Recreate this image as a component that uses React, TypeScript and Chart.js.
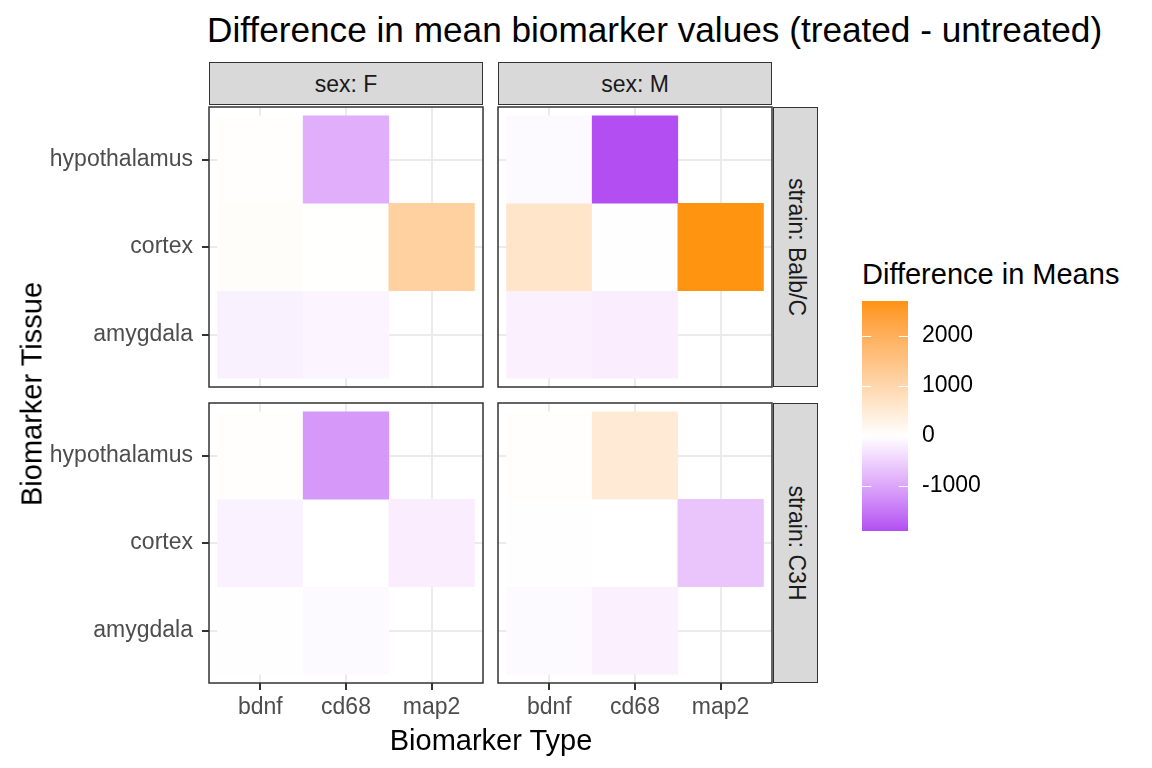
import React, { useEffect, useRef } from 'react';
import { Chart, registerables } from 'chart.js';

Chart.register(...registerables);

const FONT = "'Liberation Sans', Arial, Helvetica, sans-serif";

// ---- categories ----
const biomarkers = ['bdnf', 'cd68', 'map2'];
const tissues = ['amygdala', 'cortex', 'hypothalamus']; // bottom to top
const sexLabels = ['sex: F', 'sex: M'];
const strainLabels = ['strain: Balb/C', 'strain: C3H'];

// ---- difference in means (treated - untreated) ----
// rows follow `tissues`, columns follow `biomarkers`; null = no tile
const balbcFemale: (number | null)[][] = [
  [-160, -110, null],
  [60, 10, 1150],
  [20, -900, null],
];
const balbcMale: (number | null)[][] = [
  [-170, -200, null],
  [650, -10, 2700],
  [-60, -1900, null],
];
const c3hFemale: (number | null)[][] = [
  [-10, -50, null],
  [-140, -5, -200],
  [30, -1130, null],
];
const c3hMale: (number | null)[][] = [
  [-50, -170, null],
  [-10, -5, -640],
  [30, 500, null],
];

const legendTicks = [-1000, 0, 1000, 2000];

const lowColor = '#B24EF2';
const midColor = '#FFFFFF';
const highColor = '#FF9410';

const allValues = [balbcFemale, balbcMale, c3hFemale, c3hMale]
  .flat(2)
  .filter((v) => v !== null) as number[];
const dataMin = Math.min(...allValues);
const dataMax = Math.max(...allValues);

// ---- colour scale (Lab interpolation, white at 0) ----
function hexToRgb(h: string): number[] {
  const n = parseInt(h.slice(1), 16);
  return [(n >> 16) & 255, (n >> 8) & 255, n & 255];
}
function toLin(c: number) {
  c /= 255;
  return c <= 0.04045 ? c / 12.92 : Math.pow((c + 0.055) / 1.055, 2.4);
}
function fromLin(c: number) {
  const v = c <= 0.0031308 ? 12.92 * c : 1.055 * Math.pow(c, 1 / 2.4) - 0.055;
  return Math.round(Math.min(1, Math.max(0, v)) * 255);
}
function rgbToLab(rgb: number[]): number[] {
  const R = toLin(rgb[0]), G = toLin(rgb[1]), B = toLin(rgb[2]);
  const X = (0.4124 * R + 0.3576 * G + 0.1805 * B) / 0.95047;
  const Y = 0.2126 * R + 0.7152 * G + 0.0722 * B;
  const Z = (0.0193 * R + 0.1192 * G + 0.9505 * B) / 1.08883;
  const f = (t: number) => (t > 0.008856 ? Math.cbrt(t) : 7.787 * t + 16 / 116);
  const fx = f(X), fy = f(Y), fz = f(Z);
  return [116 * fy - 16, 500 * (fx - fy), 200 * (fy - fz)];
}
function labToRgb(lab: number[]): string {
  const fy = (lab[0] + 16) / 116;
  const fx = fy + lab[1] / 500;
  const fz = fy - lab[2] / 200;
  const inv = (t: number) => {
    const t3 = t * t * t;
    return t3 > 0.008856 ? t3 : (t - 16 / 116) / 7.787;
  };
  const X = inv(fx) * 0.95047, Y = inv(fy), Z = inv(fz) * 1.08883;
  const R = 3.2406 * X - 1.5372 * Y - 0.4986 * Z;
  const G = -0.9689 * X + 1.8758 * Y + 0.0415 * Z;
  const B = 0.0557 * X - 0.204 * Y + 1.057 * Z;
  return `rgb(${fromLin(R)},${fromLin(G)},${fromLin(B)})`;
}
const labLow = rgbToLab(hexToRgb(lowColor));
const labMid = rgbToLab(hexToRgb(midColor));
const labHigh = rgbToLab(hexToRgb(highColor));
function fillColor(v: number): string {
  const end = v >= 0 ? labHigh : labLow;
  const t = Math.min(1, Math.max(0, v >= 0 ? v / dataMax : v / dataMin));
  return labToRgb(labMid.map((m, i) => m + (end[i] - m) * t));
}

// ---- layout ----
const PANEL_LEFT = [209, 498];
const PANEL_TOP = [107, 403];
const PANEL_W = 274;
const PANEL_H = 280;
const PAD = 2;
const Y_AXIS_W = 180;
const X_AXIS_H = 44;
const EXPAND = 0.6;

const zeroPad = (s: any) => {
  s.paddingTop = 0;
  s.paddingBottom = 0;
  s.paddingLeft = 0;
  s.paddingRight = 0;
};

const borderPlugin = {
  id: 'panelBorder',
  afterDraw(chart: any) {
    const { ctx, chartArea: a } = chart;
    ctx.save();
    ctx.strokeStyle = '#333333';
    ctx.lineWidth = 1.5;
    ctx.strokeRect(a.left, a.top, a.right - a.left, a.bottom - a.top);
    ctx.restore();
  },
};

type PanelProps = { values: (number | null)[][]; row: number; col: number };

function Panel({ values, row, col }: PanelProps) {
  const ref = useRef<HTMLCanvasElement>(null);
  const showY = col === 0;
  const showX = row === 1;
  const left = PANEL_LEFT[col] - PAD - (showY ? Y_AXIS_W : 0);
  const top = PANEL_TOP[row] - PAD;
  const width = PAD + (showY ? Y_AXIS_W : 0) + PANEL_W + PAD;
  const height = PAD + PANEL_H + (showX ? X_AXIS_H : 0) + PAD;

  useEffect(() => {
    const tiles: any[] = [];
    values.forEach((r, ti) =>
      r.forEach((v, bi) => {
        if (v !== null) tiles.push({ x: bi + 1, y: [ti + 0.5, ti + 1.5], v });
      })
    );
    const chart = new Chart(ref.current!, {
      type: 'bar',
      data: {
        datasets: [
          {
            data: tiles,
            backgroundColor: tiles.map((t) => fillColor(t.v)),
            borderWidth: 0,
            barPercentage: 1,
            categoryPercentage: 1,
          } as any,
        ],
      },
      options: {
        responsive: false,
        animation: false,
        layout: { padding: PAD },
        plugins: { legend: { display: false }, tooltip: { enabled: false } },
        scales: {
          x: {
            type: 'linear',
            min: 1 - EXPAND,
            max: biomarkers.length + EXPAND,
            offset: false,
            afterBuildTicks: (s: any) => {
              s.ticks = biomarkers.map((_, i) => ({ value: i + 1 }));
            },
            afterFit: (s: any) => {
              s.height = showX ? X_AXIS_H : 0;
              zeroPad(s);
            },
            ticks: {
              display: showX,
              autoSkip: false,
              maxRotation: 0,
              minRotation: 0,
              padding: 4,
              color: '#4D4D4D',
              font: { family: FONT, size: 23 },
              callback: (v: any) => biomarkers[Math.round(Number(v)) - 1] ?? '',
            },
            grid: {
              color: '#EBEBEB',
              lineWidth: 2,
              offset: false,
              drawTicks: showX,
              tickLength: 7,
              tickColor: '#333333',
              tickWidth: 2,
            },
            border: { display: false },
          } as any,
          y: {
            type: 'linear',
            min: 1 - EXPAND,
            max: tissues.length + EXPAND,
            afterBuildTicks: (s: any) => {
              s.ticks = tissues.map((_, i) => ({ value: i + 1 }));
            },
            afterFit: (s: any) => {
              s.width = showY ? Y_AXIS_W : 0;
              zeroPad(s);
            },
            ticks: {
              display: showY,
              autoSkip: false,
              padding: 9,
              color: '#4D4D4D',
              font: { family: FONT, size: 23 },
              callback: (v: any) => tissues[Math.round(Number(v)) - 1] ?? '',
            },
            grid: {
              color: '#EBEBEB',
              lineWidth: 2,
              drawTicks: showY,
              tickLength: 7,
              tickColor: '#333333',
              tickWidth: 2,
            },
            border: { display: false },
          } as any,
        },
      },
      plugins: [borderPlugin],
    });
    return () => chart.destroy();
  }, []);

  return (
    <canvas
      ref={ref}
      width={width}
      height={height}
      style={{ position: 'absolute', left, top, width, height }}
    />
  );
}

const LEG_LEFT = 862;
const LEG_TOP = 301;
const LEG_W = 46;
const LEG_H = 230;
const LEG_LABEL_W = 100;

const whiteTicks = {
  id: 'whiteTicks',
  afterDatasetsDraw(chart: any) {
    const { ctx, chartArea: a } = chart;
    const ys = chart.scales.y;
    const len = (a.right - a.left) / 5;
    ctx.save();
    ctx.strokeStyle = '#FFFFFF';
    ctx.lineWidth = 1;
    legendTicks.forEach((v) => {
      const py = Math.round(ys.getPixelForValue(v)) + 0.5;
      ctx.beginPath();
      ctx.moveTo(a.left, py);
      ctx.lineTo(a.left + len, py);
      ctx.moveTo(a.right - len, py);
      ctx.lineTo(a.right, py);
      ctx.stroke();
    });
    ctx.restore();
  },
};

function ColorBar() {
  const ref = useRef<HTMLCanvasElement>(null);
  const left = LEG_LEFT - PAD;
  const top = LEG_TOP - 14;
  const width = PAD + LEG_W + LEG_LABEL_W;
  const height = 14 + LEG_H + 14;
  useEffect(() => {
    const chart = new Chart(ref.current!, {
      type: 'bar',
      data: {
        datasets: [
          {
            data: [{ x: 0.5, y: [dataMin, dataMax] }],
            backgroundColor: (c: any) => {
              const ch = c.chart;
              if (!ch.chartArea) return '#ffffff';
              const ys = ch.scales.y;
              const g = ch.ctx.createLinearGradient(
                0,
                ys.getPixelForValue(dataMax),
                0,
                ys.getPixelForValue(dataMin)
              );
              const n = 60;
              for (let i = 0; i <= n; i++) {
                const v = dataMax - ((dataMax - dataMin) * i) / n;
                g.addColorStop(i / n, fillColor(v));
              }
              return g;
            },
            borderWidth: 0,
            barPercentage: 1,
            categoryPercentage: 1,
          } as any,
        ],
      },
      options: {
        responsive: false,
        animation: false,
        layout: { padding: { left: PAD, top: 14, bottom: 14, right: 0 } },
        plugins: { legend: { display: false }, tooltip: { enabled: false } },
        scales: {
          x: {
            type: 'linear',
            min: 0,
            max: 1,
            display: false,
            offset: false,
            afterBuildTicks: (s: any) => {
              s.ticks = [{ value: 0 }, { value: 1 }];
            },
            afterFit: (s: any) => {
              s.height = 0;
              zeroPad(s);
            },
          } as any,
          y: {
            type: 'linear',
            position: 'right',
            min: dataMin,
            max: dataMax,
            afterBuildTicks: (s: any) => {
              s.ticks = legendTicks.map((v) => ({ value: v }));
            },
            afterFit: (s: any) => {
              s.width = LEG_LABEL_W;
              zeroPad(s);
            },
            ticks: {
              autoSkip: false,
              padding: 14,
              color: '#000000',
              font: { family: FONT, size: 23 },
              callback: (v: any) => String(v),
            },
            grid: { display: false, drawTicks: false },
            border: { display: false },
          } as any,
        },
      },
      plugins: [whiteTicks],
    });
    return () => chart.destroy();
  }, []);
  return (
    <canvas
      ref={ref}
      width={width}
      height={height}
      style={{ position: 'absolute', left, top, width, height }}
    />
  );
}

type TextProps = {
  x: number;
  y: number;
  size: number;
  color?: string;
  rotate?: number;
  align?: 'left' | 'center';
  children: React.ReactNode;
};

function Text({ x, y, size, color = '#000000', rotate = 0, align = 'center', children }: TextProps) {
  const tx = align === 'center' ? '-50%' : '0';
  return (
    <div
      style={{
        position: 'absolute',
        left: x,
        top: y,
        fontFamily: FONT,
        fontSize: size,
        lineHeight: 1,
        color,
        whiteSpace: 'nowrap',
        transform: `translate(${tx}, -50%) rotate(${rotate}deg)`,
        transformOrigin: align === 'center' ? 'center' : 'left center',
      }}
    >
      {children}
    </div>
  );
}

function Strip({ left, top, width, height }: { left: number; top: number; width: number; height: number }) {
  return (
    <div
      style={{
        position: 'absolute',
        left,
        top,
        width,
        height,
        boxSizing: 'border-box',
        background: '#D9D9D9',
        border: '1.5px solid #333333',
      }}
    />
  );
}

const panelData = [
  [balbcFemale, balbcMale],
  [c3hFemale, c3hMale],
];

const STRIP_TOP = 62;
const STRIP_H = 43;
const RSTRIP_LEFT = 773;
const RSTRIP_W = 45;

export default function App() {
  return (
    <div
      style={{
        position: 'fixed',
        left: 0,
        top: 0,
        width: 1152,
        height: 768,
        background: '#FFFFFF',
        overflow: 'hidden',
      }}
    >
      <Text x={207} y={30} size={35.2} align="left">
        Difference in mean biomarker values (treated - untreated)
      </Text>

      {sexLabels.map((s, c) => (
        <React.Fragment key={s}>
          <Strip left={PANEL_LEFT[c]} top={STRIP_TOP} width={PANEL_W} height={STRIP_H} />
          <Text x={PANEL_LEFT[c] + PANEL_W / 2} y={STRIP_TOP + STRIP_H / 2} size={23} color="#1A1A1A">
            {s}
          </Text>
        </React.Fragment>
      ))}

      {strainLabels.map((s, r) => (
        <React.Fragment key={s}>
          <Strip left={RSTRIP_LEFT} top={PANEL_TOP[r]} width={RSTRIP_W} height={PANEL_H} />
          <Text x={RSTRIP_LEFT + RSTRIP_W / 2} y={PANEL_TOP[r] + PANEL_H / 2} size={23} color="#1A1A1A" rotate={90}>
            {s}
          </Text>
        </React.Fragment>
      ))}

      {panelData.map((rowData, r) =>
        rowData.map((vals, c) => <Panel key={`${r}-${c}`} values={vals} row={r} col={c} />)
      )}

      <Text x={491} y={740} size={29}>
        Biomarker Type
      </Text>
      <Text x={32} y={394} size={29} rotate={-90}>
        Biomarker Tissue
      </Text>

      <Text x={862} y={274} size={29} align="left">
        Difference in Means
      </Text>
      <ColorBar />
    </div>
  );
}
